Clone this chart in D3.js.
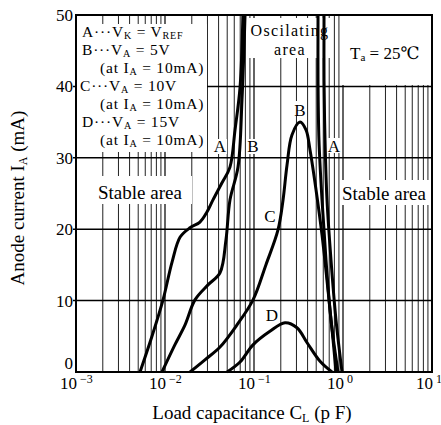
<!DOCTYPE html>
<meta charset="utf-8">
<script src="https://d3js.org/d3.v7.min.js"></script>
<style>
  body { margin: 0; background: #fff; }
  text { font-family: "Liberation Serif", "DejaVu Serif", serif; fill: #000; }
</style>
<div id="chart"></div>
<script>
// curves: load capacitance C_L (pF) vs anode current I_A (mA)
var aLeftC  = [0.00524, 0.00714, 0.0095, 0.012, 0.0148, 0.0191, 0.0247, 0.0296, 0.0346, 0.0437, 0.0537, 0.0612, 0.0697, 0.075];
var aLeftI  = [0, 5, 10.1, 15.4, 18.9, 20.2, 21, 22.4, 24.1, 26.5, 28.7, 33.9, 39.9, 50];
var bLeftC  = [0.00925, 0.0129, 0.0168, 0.0217, 0.0304, 0.0415, 0.0484, 0.0537, 0.0661, 0.0733, 0.0793];
var bLeftI  = [0, 3.8, 6.6, 10.1, 12.2, 13.9, 18.5, 24.1, 28.7, 38.1, 50];
var cC      = [0.0191, 0.0281, 0.0415, 0.0644, 0.0975, 0.136, 0.186, 0.212, 0.235, 0.267, 0.329, 0.384, 0.426, 0.498, 0.581, 0.678, 0.773, 0.834];
var cI      = [0, 1.7, 3.5, 6.6, 10.1, 15, 19.9, 24.1, 29, 33.2, 35, 33.9, 31.1, 25.5, 19.2, 11.5, 4.5, 0];
var dC      = [0.0498, 0.0697, 0.0975, 0.151, 0.223, 0.304, 0.395, 0.552, 0.752];
var dI      = [0, 1.4, 3.8, 5.7, 6.9, 6.2, 4.1, 1.5, 0];
var bRightC = [0.524, 0.524, 0.537, 0.581, 0.644, 0.733, 0.879];
var bRightI = [50, 40.9, 32.5, 24.1, 15.7, 7.3, 0];
var aRightC = [0.612, 0.612, 0.628, 0.661, 0.733, 0.834, 0.975];
var aRightI = [50, 40.9, 32.5, 24.1, 15.7, 7.3, 0];

var yTicks = [0, 10, 20, 30, 40, 50];
var xDecades = [0.001, 0.01, 0.1, 1, 10];
var xExps = ["\u22123", "\u22122", "\u22121", "0", "1"];

var width = 441, height = 425;

var svg = d3.select("#chart").append("svg")
    .attr("width", width)
    .attr("height", height);

var x = d3.scaleLog().domain([0.001, 10]).range([76, 432]);
var y = d3.scaleLinear().domain([0, 50]).range([372, 15]);

// grid
var grid = svg.append("g");
grid.selectAll("line.v")
  .data(x.ticks())
  .enter().append("line")
    .attr("x1", d => x(d)).attr("x2", d => x(d))
    .attr("y1", y(0)).attr("y2", y(50))
    .attr("stroke", "#222")
    .attr("stroke-width", d => xDecades.indexOf(d) >= 0 ? 1.4 : 1);
grid.selectAll("line.h")
  .data(yTicks.slice(1, -1))
  .enter().append("line")
    .attr("x1", x(0.001) - 3).attr("x2", x(10))
    .attr("y1", d => y(d)).attr("y2", d => y(d))
    .attr("stroke", "#000")
    .attr("stroke-width", 1.5);

// white areas behind the texts
var masks = [
  [77, 24, 130, 128],
  [96, 176, 96, 28],
  [341, 180, 90, 25],
  [249, 18, 84, 40],
  [341, 16, 90, 69],
  [213, 139, 14, 15],
  [247, 139, 13, 15],
  [293, 101, 14, 15],
  [327, 138, 14, 15],
  [264, 208, 13, 15],
  [266, 306, 13, 15]
];
svg.append("g").selectAll("rect")
  .data(masks)
  .enter().append("rect")
    .attr("x", d => d[0]).attr("y", d => d[1])
    .attr("width", d => d[2]).attr("height", d => d[3])
    .attr("fill", "#fff");

// curves
var line = d3.line()
    .x(d => x(d[0]))
    .y(d => y(d[1]))
    .curve(d3.curveCatmullRom.alpha(0.5));

var curves = [
  d3.zip(aLeftC, aLeftI),
  d3.zip(bLeftC, bLeftI),
  d3.zip(cC, cI),
  d3.zip(dC, dI),
  d3.zip(bRightC, bRightI),
  d3.zip(aRightC, aRightI)
];
svg.append("g").selectAll("path")
  .data(curves)
  .enter().append("path")
    .attr("d", line)
    .attr("fill", "none")
    .attr("stroke", "#000")
    .attr("stroke-width", 3);

// frame
svg.append("rect")
  .attr("x", x(0.001)).attr("y", y(50))
  .attr("width", x(10) - x(0.001))
  .attr("height", y(0) - y(50))
  .attr("fill", "none")
  .attr("stroke", "#000")
  .attr("stroke-width", 2);

// y tick labels
svg.append("g").selectAll("text")
  .data(yTicks)
  .enter().append("text")
    .attr("x", 73)
    .attr("y", d => d == 0 ? y(d) - 3 : y(d) + 6)
    .attr("text-anchor", "end")
    .attr("font-size", 17)
    .text(d => d);

// x tick labels
var xl = svg.append("g").selectAll("text")
  .data(xDecades)
  .enter().append("text")
    .attr("x", d => x(d) - 16)
    .attr("y", 389)
    .attr("font-size", 17);
xl.append("tspan").text("10");
xl.append("tspan")
  .attr("dy", -6)
  .attr("dx", 3)
  .attr("font-size", 12)
  .text((d, i) => xExps[i]);

// axis titles
var xt = svg.append("text")
  .attr("x", 252).attr("y", 419)
  .attr("text-anchor", "middle")
  .attr("font-size", 19);
xt.append("tspan").text("Load  capacitance  C");
xt.append("tspan").attr("dy", 3).attr("font-size", 12).text("L");
xt.append("tspan").attr("dy", -3).text(" (p F)");

var yt = svg.append("text")
  .attr("transform", "translate(24,198) rotate(-90)")
  .attr("text-anchor", "middle")
  .attr("font-size", 19);
yt.append("tspan").text("Anode current  I");
yt.append("tspan").attr("dy", 3).attr("font-size", 12).text("A");
yt.append("tspan").attr("dy", -3).text(" (mA)");

// text with subscripts
function rich(g, px, py, parts, size) {
  var t = g.append("text").attr("x", px).attr("y", py).attr("font-size", size);
  var shift = 0;
  parts.forEach(function(p) {
    var s = t.append("tspan").text(p[0]);
    var want = p[1] ? 2 : 0;
    if (want != shift) s.attr("dy", want - shift);
    if (p[1]) s.attr("font-size", size * 0.65);
    shift = want;
  });
  return t;
}

// legend
var leg = svg.append("g").attr("letter-spacing", 0.8);
rich(leg, 82, 37, [["A\u00b7\u00b7\u00b7V"], ["K", 1], [" = V"], ["REF", 1]], 15.5);
rich(leg, 82, 55, [["B\u00b7\u00b7\u00b7V"], ["A", 1], [" = 5V"]], 15.5);
rich(leg, 100, 73, [["(at  I"], ["A", 1], [" = 10mA)"]], 15.5);
rich(leg, 80, 91, [["C\u00b7\u00b7\u00b7V"], ["A", 1], [" = 10V"]], 15.5);
rich(leg, 100, 109, [["(at  I"], ["A", 1], [" = 10mA)"]], 15.5);
rich(leg, 82, 127, [["D\u00b7\u00b7\u00b7V"], ["A", 1], [" = 15V"]], 15.5);
rich(leg, 100, 145, [["(at  I"], ["A", 1], [" = 10mA)"]], 15.5);

// area labels
var ann = svg.append("g").attr("font-size", 19);
ann.append("text").attr("x", 98).attr("y", 199).text("Stable  area");
ann.append("text").attr("x", 342).attr("y", 200).text("Stable  area");
ann.append("text").attr("x", 290).attr("y", 36).attr("text-anchor", "middle")
  .attr("font-size", 16).attr("letter-spacing", 1.3).text("Oscilating");
ann.append("text").attr("x", 290).attr("y", 55).attr("text-anchor", "middle")
  .attr("font-size", 16).attr("letter-spacing", 1.3).text("area");
rich(svg, 350, 59, [["T"], ["a", 1], [" = 25\u2103"]], 17);

// curve labels
var cl = [["A", 220, 152], ["B", 253, 152], ["B", 300, 116], ["A", 334, 152], ["C", 270, 222], ["D", 272, 321]];
svg.append("g").selectAll("text")
  .data(cl)
  .enter().append("text")
    .attr("x", d => d[1]).attr("y", d => d[2])
    .attr("text-anchor", "middle")
    .attr("font-size", 17)
    .text(d => d[0]);
</script>
